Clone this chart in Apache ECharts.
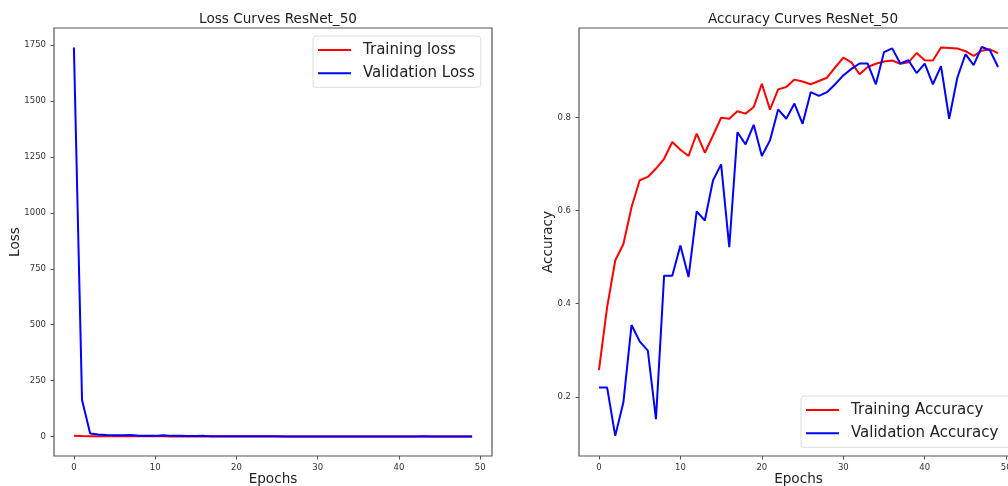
<!DOCTYPE html>
<html>
<head>
<meta charset="utf-8">
<script src="https://cdn.jsdelivr.net/npm/echarts@6/dist/echarts.min.js"></script>
<style>
html,body{margin:0;padding:0;background:#fff;}
#c{width:1008px;height:486px;}
</style>
</head>
<body>
<div id="c"></div>
<script>
const epochs = Array.from({length: 50}, (_, i) => i);
const trainLoss = [3.2, 2.1, 1.7, 1.5, 1.3, 1.2, 1.1, 1.0, 0.95, 0.85, 0.9, 0.85, 0.75, 0.8, 0.7, 0.65, 0.62, 0.6, 0.58, 0.55, 0.5, 0.56, 0.5, 0.48, 0.45, 0.46, 0.45, 0.43, 0.42, 0.38, 0.35, 0.37, 0.4, 0.37, 0.36, 0.35, 0.34, 0.35, 0.34, 0.3, 0.33, 0.33, 0.25, 0.26, 0.26, 0.27, 0.29, 0.27, 0.26, 0.28];
const valLoss = [1740, 163, 14, 9, 7, 6, 6, 7, 4, 4, 3, 6, 3, 3.5, 2.5, 2, 3, 1.2, 1.5, 1.0, 1.4, 1.2, 0.9, 0.9, 0.8, 0.9, 0.7, 0.7, 0.6, 0.55, 0.5, 0.45, 0.45, 0.5, 0.5, 0.3, 0.3, 0.4, 0.4, 0.45, 0.4, 0.55, 0.45, 1.2, 0.6, 0.35, 0.45, 0.3, 0.3, 0.45];
const trainAcc = [0.257, 0.392, 0.4925, 0.528, 0.607, 0.665, 0.672, 0.69, 0.711, 0.747,
  0.7305, 0.717, 0.765, 0.724, 0.761, 0.799, 0.797, 0.813, 0.808, 0.822,
  0.872, 0.8165, 0.86, 0.865, 0.881, 0.877, 0.871, 0.878, 0.885, 0.907,
  0.928, 0.918, 0.8925, 0.908, 0.915, 0.92, 0.922, 0.915, 0.918, 0.938,
  0.9226, 0.922, 0.95, 0.949, 0.948, 0.942, 0.932, 0.943, 0.946, 0.938];
const valAcc = [0.22, 0.22, 0.116, 0.188, 0.354, 0.319, 0.299, 0.152, 0.46, 0.46,
  0.525, 0.457, 0.598, 0.5785, 0.6645, 0.699, 0.521, 0.768, 0.742, 0.784,
  0.717, 0.7505, 0.817, 0.797, 0.8295, 0.786, 0.854, 0.846, 0.854, 0.871,
  0.89, 0.904, 0.9155, 0.9155, 0.871, 0.94, 0.948, 0.9155, 0.9226, 0.895,
  0.9155, 0.871, 0.91, 0.797, 0.885, 0.9355, 0.912, 0.951, 0.944, 0.908];
const xTicks = [0, 10, 20, 30, 40, 50];
const lossTicks = [0, 250, 500, 750, 1000, 1250, 1500, 1750];
const accTicks = [0.2, 0.4, 0.6, 0.8];

const FONT = 'DejaVu Sans';
const pair = (arr) => arr.map((v, i) => [epochs[i], v]);

function xAxis(idx) {
  return {
    type: 'value', gridIndex: idx, min: -2.45, max: 51.45,
    name: 'Epochs', nameLocation: 'middle', nameGap: 16, nameMoveOverlap: false,
    nameTextStyle: {fontFamily: FONT, fontSize: 13.6, color: '#222'},
    axisLine: {show: false, onZero: false},
    splitLine: {show: false},
    axisTick: {show: true, inside: false, length: 3.5, customValues: xTicks, lineStyle: {color: '#555'}},
    axisLabel: {customValues: xTicks, fontFamily: FONT, fontSize: 8.5, color: '#333', margin: 7}
  };
}
function yAxis(idx, name, min, max, ticks, fmt, gap) {
  return {
    type: 'value', gridIndex: idx, min: min, max: max,
    name: name, nameLocation: 'middle', nameGap: gap, nameRotate: 90, nameMoveOverlap: false,
    nameTextStyle: {fontFamily: FONT, fontSize: 13.6, color: '#222'},
    axisLine: {show: false, onZero: false},
    splitLine: {show: false},
    axisTick: {show: true, inside: false, length: 3.5, customValues: ticks, lineStyle: {color: '#555'}},
    axisLabel: {customValues: ticks, fontFamily: FONT, fontSize: 8.5, color: '#333', margin: 8, formatter: fmt}
  };
}
function legend(names, left, top, padRight) {
  return {
    data: names, orient: 'vertical', left: left, top: top,
    icon: 'rect', itemWidth: 33, itemHeight: 2, itemGap: 5.3,
    padding: [5, padRight, 5, 5],
    backgroundColor: '#fff', borderColor: '#ddd', borderWidth: 1, borderRadius: 3,
    textStyle: {fontFamily: FONT, fontSize: 15, color: '#222', lineHeight: 18, padding: [0, 0, 0, 7]}
  };
}
function line(name, data, color, xi, yi) {
  return {
    name: name, type: 'line', xAxisIndex: xi, yAxisIndex: yi,
    data: pair(data), symbol: 'none', showSymbol: false,
    lineStyle: {color: color, width: 2}, itemStyle: {color: color},
    animation: false
  };
}

const chart = echarts.init(document.getElementById('c'), null, {renderer: 'canvas'});
chart.setOption({
  animation: false,
  backgroundColor: '#fff',
  title: [
    {text: 'Loss Curves ResNet_50', left: 273, top: 7, textAlign: 'center',
     textStyle: {fontFamily: FONT, fontSize: 13.6, fontWeight: 'normal', color: '#222'}},
    {text: 'Accuracy Curves ResNet_50', left: 798, top: 7, textAlign: 'center',
     textStyle: {fontFamily: FONT, fontSize: 13.6, fontWeight: 'normal', color: '#222'}}
  ],
  grid: [
    {left: 54, top: 28, width: 438, height: 428, outerBoundsMode: 'none', containLabel: false,
     show: true, borderColor: '#555', borderWidth: 1.2, backgroundColor: '#fff'},
    {left: 579, top: 28, width: 439, height: 428, outerBoundsMode: 'none', containLabel: false,
     show: true, borderColor: '#555', borderWidth: 1.2, backgroundColor: '#fff'}
  ],
  xAxis: [xAxis(0), xAxis(1)],
  yAxis: [
    yAxis(0, 'Loss', -87, 1827, lossTicks, (v) => String(v), 32),
    yAxis(1, 'Accuracy', 0.0728, 0.9918, accTicks, (v) => v.toFixed(1), 24)
  ],
  legend: [
    legend(['Training loss', 'Validation Loss'], 313, 36, 6),
    legend(['Training Accuracy', 'Validation Accuracy'], 801, 396, 14)
  ],
  series: [
    line('Training loss', trainLoss, '#ff0000', 0, 0),
    line('Validation Loss', valLoss, '#0000ff', 0, 0),
    line('Training Accuracy', trainAcc, '#ff0000', 1, 1),
    line('Validation Accuracy', valAcc, '#0000ff', 1, 1)
  ]
});
</script>
</body>
</html>
